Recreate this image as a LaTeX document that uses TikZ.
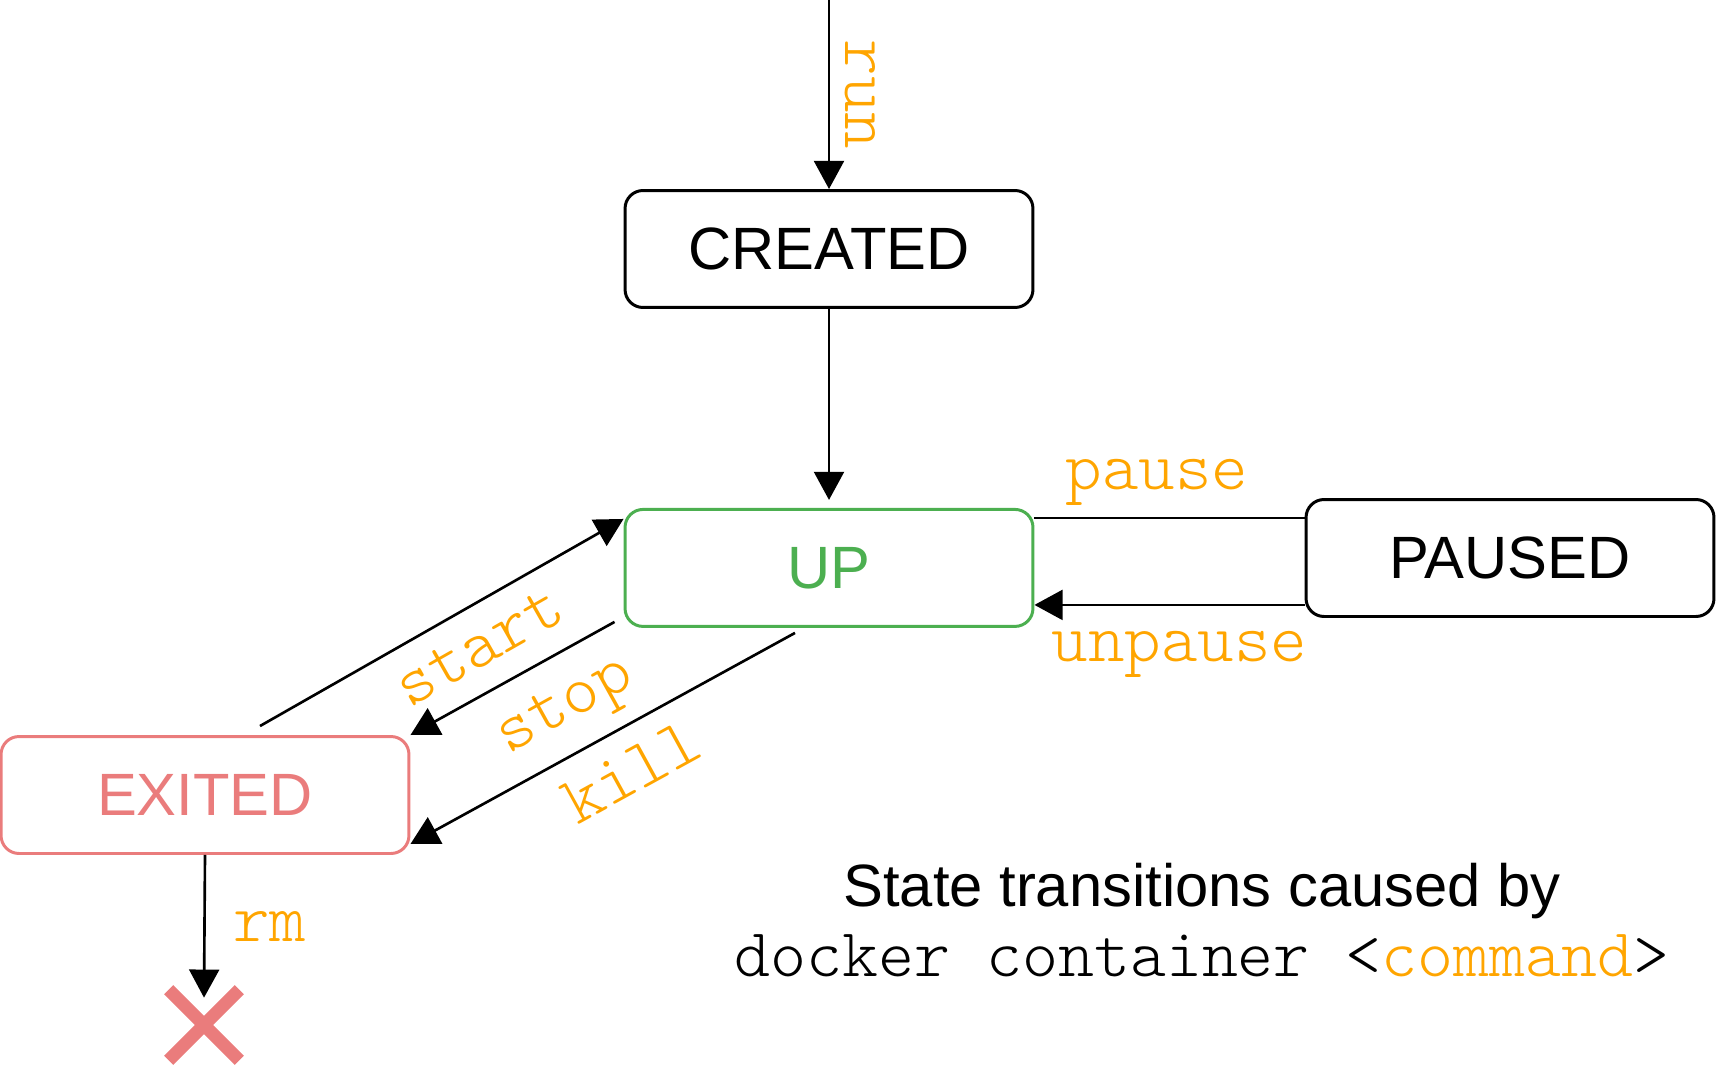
\documentclass[tikz,border=0pt]{standalone}
\usepackage{fontspec}
\setmainfont{Liberation Sans}
\setsansfont{Liberation Sans}
\setmonofont{Latin Modern Mono Light}
\usetikzlibrary{arrows.meta, positioning, calc}
\definecolor{cmdorange}{HTML}{FFA500}
\definecolor{upgreen}{HTML}{4CAF50}
\definecolor{exitred}{HTML}{EA7C7C}
\tikzset{
    statebox/.style={
        draw,
        rounded corners=0.36cm,
        line width=1.7pt,
        minimum width=8.16cm,
        minimum height=2.34cm,
        align=center,
        font=\fontsize{34}{40}\selectfont\sffamily
    },
    line/.style={-{Triangle[length=16pt, width=17pt]}, line width=1.5pt},
    plainline/.style={line width=1.5pt},
    cmd/.style={text=cmdorange, inner sep=0pt, font=\fontsize{39.6}{44}\selectfont\ttfamily},
    caption/.style={font=\fontsize{34}{40}\selectfont\sffamily},
    gone/.style={line width=7.4pt, exitred}
}

\begin{document}
\begin{tikzpicture}[x=0.02cm, y=-0.02cm]
\useasboundingbox (0,0) rectangle (1716,1068);

\node[statebox] (created) at (829,249) {CREATED};
\node[statebox, draw=upgreen, text=upgreen, below=3.98cm of created] (up) {UP};
\node[statebox] (paused) at (1510,558) {PAUSED};
\node[statebox, draw=exitred, text=exitred] (exited) at (205,795) {EXITED};
\node[minimum size=1.4cm, inner sep=0pt] (removed) at (204,1025) {};

% run / created -> up
\coordinate (runtop) at (created.north |- 0,0);
\draw[line] (runtop) -- node[cmd, rotate=-90, anchor=south, yshift=0.3cm] {run} (created.north);
\draw[line, shorten >=0.16cm] (created) -- (up);

% pause and unpause
\draw[plainline] ([yshift=1cm]up.east) -- node[cmd, above=0.22cm, xshift=-0.25cm] {pause} ([yshift=1cm]up.east -| paused.west);
\draw[line] ([yshift=-0.74cm]up.east -| paused.west) -- node[cmd, below=0.5cm, xshift=0.2cm] {unpause} ([yshift=-0.74cm]up.east);

% start, stop, kill
\draw[line] ([xshift=1.1cm, yshift=0.18cm]exited.north) -- node[cmd, sloped, below=0.38cm, pos=0.55] {start} ([yshift=-0.22cm]up.north west);
\draw[line] ([xshift=-0.18cm, yshift=0.12cm]up.south west) -- node[cmd, sloped, below=0.5cm, pos=0.36] {stop} (exited.north east);
\draw[line] ([xshift=-0.68cm, yshift=-0.1cm]up.south) -- node[cmd, sloped, below=0.4cm, pos=0.48] {kill} ([yshift=0.22cm]exited.south east);

% rm
\draw[line] (exited.south) -- node[cmd, right=0.55cm] {rm} ([yshift=-0.16cm]removed.north);
\draw[gone] (removed.north west) -- (removed.south east);
\draw[gone] (removed.north east) -- (removed.south west);

% caption
\node[caption, anchor=base] (title) at (1202,906) {State transitions caused by};
\node[caption, anchor=base, font=\fontsize{39}{44}\selectfont\ttfamily] (subtitle) at ([yshift=-1.4cm]title.base) {docker container <\textcolor{cmdorange}{command}>};
\end{tikzpicture}
\end{document}
